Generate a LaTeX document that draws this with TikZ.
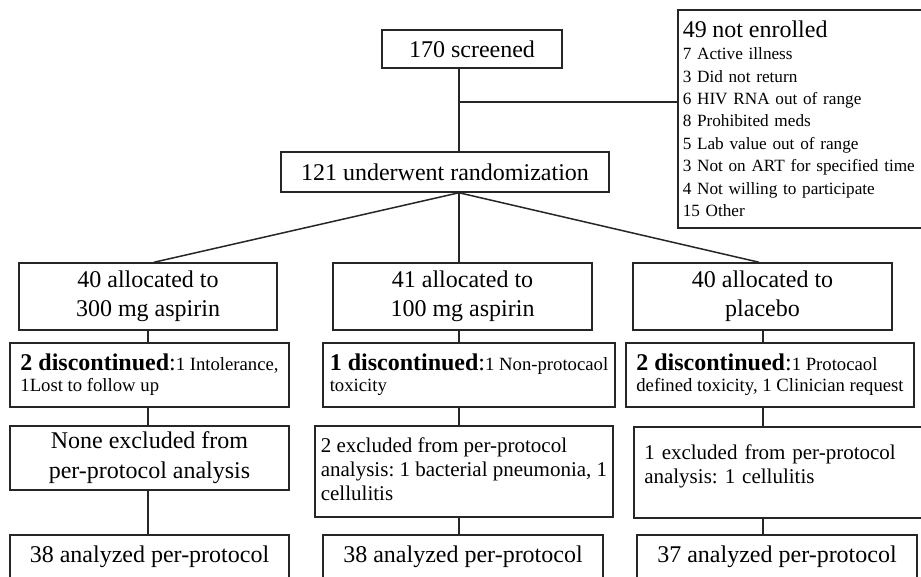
\documentclass[tikz,border=0pt]{standalone}
\usepackage{fontspec}
\setmainfont{Liberation Serif}
\usetikzlibrary{positioning}
\newcommand{\stophead}[1]{{\fontsize{24}{21}\selectfont\textbf{#1}:}}
\frenchspacing

\begin{document}
\begin{tikzpicture}[x=1pt,y=-1pt,line width=1.5pt,draw=black!85]
    \tikzstyle{box}=[draw, rectangle, inner sep=2pt, font=\fontsize{24}{29}\selectfont, align=center]
    \tikzstyle{armbox}=[box, minimum width=259pt, minimum height=67pt]
    \tikzstyle{stopbox}=[box, align=left, minimum height=64pt, font=\fontsize{18.7}{21}\selectfont]
    \tikzstyle{exclbox}=[box, align=left, minimum height=91pt, font=\fontsize{21}{24}\selectfont]
    \tikzstyle{endbox}=[box, minimum width=280pt, minimum height=44pt]

    \useasboundingbox (0,0) rectangle (921,576);

%   screening
    \node[box, minimum width=180pt, minimum height=38pt] (S) at (472,49) {170 screened};
    \node[box, minimum width=328pt, minimum height=40pt] (R) at (445,172) {121 underwent randomization};
    \node[box, anchor=north west, align=left, text width=290pt, inner xsep=5pt, minimum height=218pt,
          font=\fontsize{17.2}{22.4}\selectfont] (X) at (677,9)
         {{\fontsize{24}{26}\selectfont 49 not enrolled}\\
          7 Active illness\\
          3 Did not return\\
          6 HIV RNA out of range\\
          8 Prohibited meds\\
          5 Lab value out of range\\
          3 Not on ART for specified time\\
          4 Not willing to participate\\
          15 Other};

%   arms
    \node[armbox, minimum width=258pt] (A-1) at (148,296.5) {40 allocated to\\300 mg aspirin};
    \node[armbox] (A-2) at (462.5,296.5) {41 allocated to\\100 mg aspirin};
    \node[armbox] (A-3) at (762.5,296.5) {40 allocated to\\placebo};

    \node[stopbox, minimum width=279pt] (D-1) at (149.5,375)
         {\stophead{2 discontinued}1 Intolerance,\\1Lost to follow up};
    \node[stopbox, minimum width=292pt] (D-2) at (469,375)
         {\stophead{1 discontinued}1 Non-protocaol\\toxicity};
    \node[stopbox, minimum width=288pt] (D-3) at (770,375)
         {\stophead{2 discontinued}1 Protocaol\\defined toxicity, 1 Clinician request};

    \node[box, minimum width=279pt, minimum height=64pt, font=\fontsize{24}{30}\selectfont] (E-1) at (149.5,458)
         {None excluded from\\per-protocol analysis};
    \node[exclbox, minimum width=298pt, text depth=5pt] (E-2) at (464,471.5)
         {2 excluded from per-protocol\\analysis: 1 bacterial pneumonia, 1\\cellulitis};
    \node[exclbox, anchor=north west, minimum width=291pt, text width=270pt, inner xsep=10pt, text depth=40pt] (E-3) at (633,426)
         {1 excluded from per-protocol\\analysis: 1 cellulitis};

    \node[endbox, minimum width=279pt] (N-1) at (149.5,557) {38 analyzed per-protocol};
    \node[endbox] (N-2) at (463,557) {38 analyzed per-protocol};
    \node[endbox] (N-3) at (777,557) {37 analyzed per-protocol};

%   connectors
    \coordinate (spine) at (459,102);
    \coordinate (c1) at (148,0);
    \coordinate (c2) at (459,0);
    \coordinate (c3) at (763,0);

    \draw (S.south -| spine) -- (R.north -| spine);
    \draw (spine) -- (spine -| X.west);
    \draw (R.south -| spine) -- ([xshift=6pt]A-1.north);
    \draw (R.south -| spine) -- (A-2.north -| spine);
    \draw (R.south -| spine) -- ([xshift=-3.5pt]A-3.north);

    \foreach \x in {1,2,3}{
        \draw (A-\x.south -| c\x) -- (D-\x.north -| c\x);
        \draw (D-\x.south -| c\x) -- (E-\x.north -| c\x);
        \draw (E-\x.south -| c\x) -- (N-\x.north -| c\x);
    }
\end{tikzpicture}
\end{document}
